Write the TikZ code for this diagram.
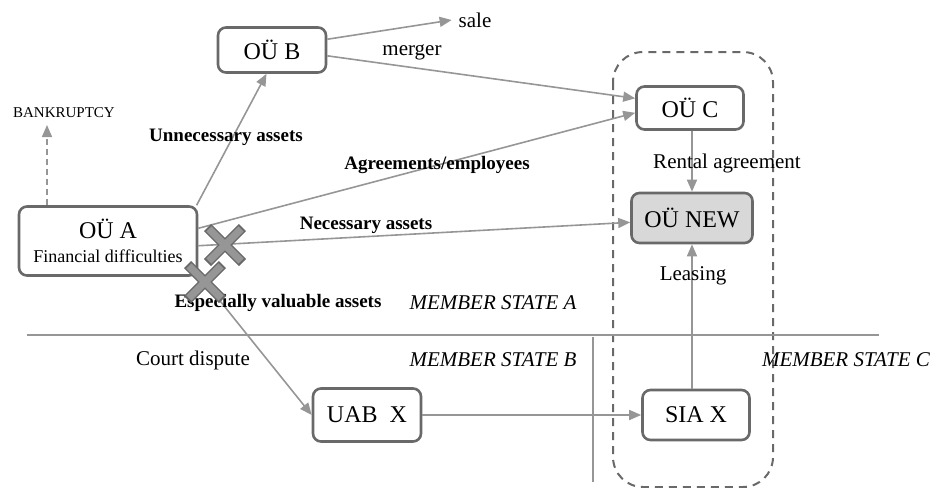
\documentclass[tikz,border=0pt]{standalone}
\usepackage{fontspec}
\setmainfont{Liberation Serif}
\usetikzlibrary{arrows.meta,shapes.misc}
\definecolor{edge}{RGB}{150,150,150}
\definecolor{frame}{RGB}{105,105,105}
\definecolor{newfill}{RGB}{216,216,216}

\tikzset{
	box/.style={draw=frame,line width=1.3pt,rounded corners=4pt,fill=white,inner sep=0pt,align=center,font=\fontsize{12}{14}\selectfont},
	flow/.style={draw=edge,line width=0.8pt,-{Triangle[length=6pt,width=5pt]}},
	lbl/.style={font=\fontsize{10.5}{12}\selectfont},
	blbl/.style={font=\fontsize{9.5}{11}\selectfont\bfseries},
	statelbl/.style={font=\fontsize{10.5}{12}\selectfont\itshape},
	xout/.style={cross out,draw,minimum size=12.5pt,inner sep=0pt},
}

\begin{document}
\begin{tikzpicture}[x=0.5pt,y=-0.5pt]
					\useasboundingbox (0,0) rectangle (939,488);
					\coordinate (pa) at (108,241);
					\coordinate (pb) at (272,50);
					\coordinate (pc) at (690,108);
					\coordinate (pnew) at (692,218);
					\coordinate (puab) at (367,415);
					\coordinate (psia) at (696,415);
					\coordinate (bkend) at (47,125);
					
					\draw[frame,line width=1pt,dash pattern=on 4pt off 3pt,rounded corners=15pt] (613,52) rectangle (773,487);
					\draw[edge,line width=0.8pt] (27,335) to[] (879,335);
					\draw[edge,line width=0.8pt] (593,337) to[] (593,482);
					
					\node (oua) at (pa) [box,minimum width=89pt,minimum height=34.5pt] {OÜ A\\[-2pt]{\fontsize{9}{11}\selectfont Financial difficulties}};
					\node (oub) at (pb) [box,minimum width=54pt,minimum height=22.5pt] {OÜ B};
					\node (ouc) at (pc) [box,minimum width=53.5pt,minimum height=21.5pt] {OÜ C};
					\node (ounew) at (pnew) [box,fill=newfill,minimum width=60.5pt,minimum height=25pt] {OÜ NEW};
					\node (uabx) at (puab) [box,minimum width=54pt,minimum height=26.5pt] {UAB\ \ X};
					\node (siax) at (psia) [box,minimum width=53.5pt,minimum height=25pt] {SIA X};
					\node (sale) at (475,20) [lbl] {sale};
					\node (bankrupt) at (64,113) [font=\fontsize{7.5}{9}\selectfont] {BANKRUPTCY};
					
					\draw[flow,dash pattern=on 3pt off 2pt] (oua.north -| bkend) to[] (bkend);
					\draw[flow] (oub.11) to[] (sale.west);
					\draw[flow] (oub.-6) to[] (ouc.170);
					\draw[flow] (oua.22.5) to[] (oub.-103);
					\draw[flow] (oua.8) to[] (ouc.185);
					\draw[flow] (oua.-3) to[] (ounew.184);
					\draw[flow] (ouc.south -| ounew.north) to[] (ounew.north);
					\draw[flow] (oua.-20) to[] (uabx.west);
					\draw[flow] (uabx.east) to[] (siax.west);
					\draw[flow] (siax.north -| ounew.south) to[] (ounew.south);
					
					\node (merger) at (412,52) [lbl] {merger};
					\node (unneeded) at (226,137) [blbl] {Unnecessary assets};
					\node (agreements) at (437,165) [blbl] {Agreements/employees};
					\node (needed) at (366,225) [blbl] {Necessary assets};
					\node (rental) at (727,163) [lbl] {Rental agreement};
					\node (leasing) at (693,276) [lbl] {Leasing};
					\node (valuable) at (278,303) [blbl] {Especially valuable assets};
					\node (statea) at (493,303) [statelbl] {MEMBER STATE A};
					\node (court) at (193,360) [lbl] {Court dispute};
					\node (stateb) at (493,360) [statelbl] {MEMBER STATE B};
					\node (statec) at (846,360) [statelbl] {MEMBER STATE C};
					
					\node (xa) at (225,245) [xout,draw=frame,line width=5pt] {};
					\node (xb) at (205,282) [xout,draw=frame,line width=5pt] {};
					\node at (xa) [xout,draw=edge,line width=3.6pt] {};
					\node at (xb) [xout,draw=edge,line width=3.6pt] {};
					
				\end{tikzpicture}
\end{document}
